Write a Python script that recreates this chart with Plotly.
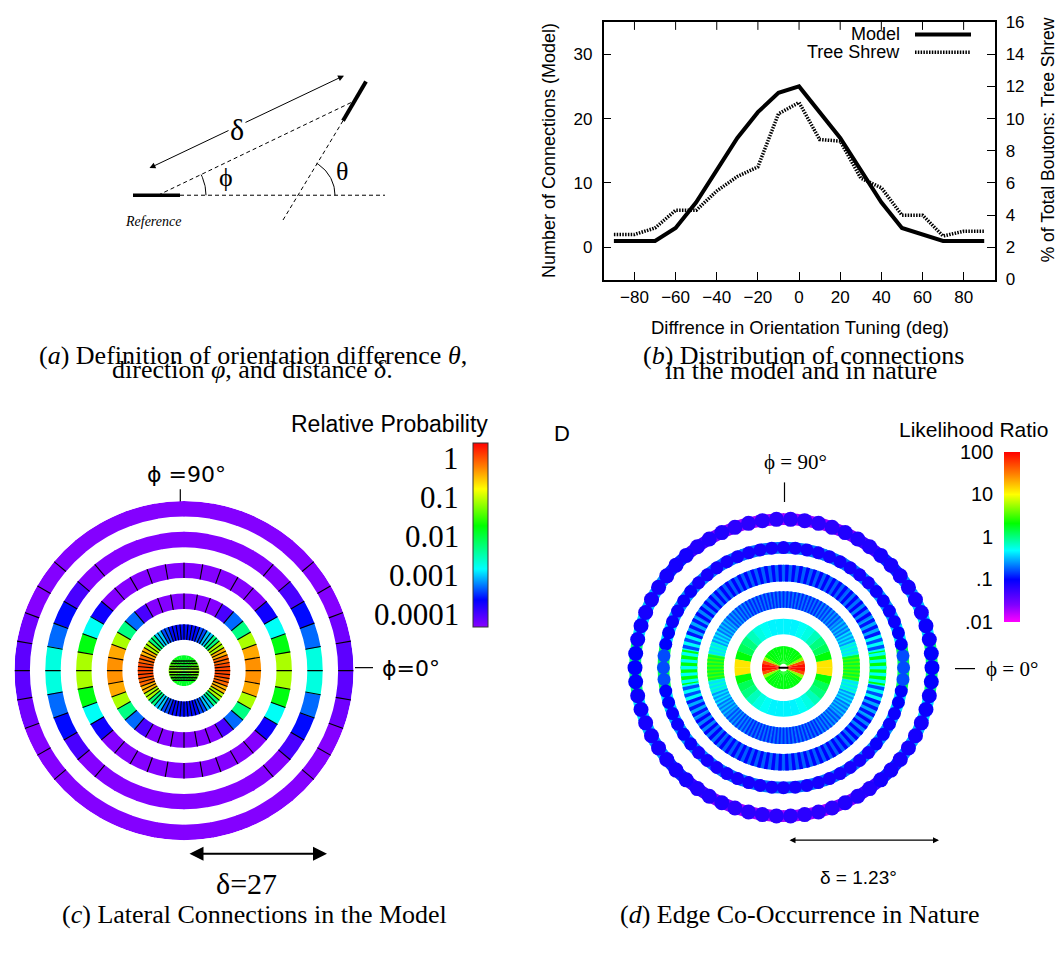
import numpy as np
import plotly.graph_objects as go

W, H = 1060, 956
SANS = "Liberation Sans"
SERIF = "Liberation Serif"

# ---------------- (b) data ----------------
ORIENT_DIFF = [-90, -80, -70, -60, -50, -40, -30, -20, -10, 0, 10, 20, 30, 40, 50, 60, 70, 80, 90]
MODEL_CONNECTIONS = [1, 1, 1, 3, 7, 12, 17, 21, 24, 25, 21, 17, 12, 7, 3, 2, 1, 1, 1]
TREE_SHREW_PCT = [2.8, 2.8, 3.2, 4.3, 4.3, 5.5, 6.4, 7.0, 10.3, 11.0, 8.7, 8.6, 6.3, 5.7, 4.0, 4.0, 2.7, 3.0, 3.0]
X_TICKS = [-80, -60, -40, -20, 0, 20, 40, 60, 80]
Y_LEFT_TICKS = [0, 10, 20, 30]
Y_RIGHT_TICKS = [0, 2, 4, 6, 8, 10, 12, 14, 16]
Y_LEFT_RANGE = [-5, 35]

# ---------------- (c) data: log10 relative probability per 10-degree sector (0..90 deg, mirrored) ----
MODEL_RING_INNER = [0, 2, 4, 6, 8, 10]
MODEL_RING_OUTER = [1, 3, 5, 7, 9, 11]
MODEL_RING_LOGP = [
    [-1.2, -1.3, -1.45, -1.6, -1.7, -1.8, -1.85, -1.9, -1.9],
    [0.05, -0.1, -0.45, -1.1, -2.3, -3.0, -3.4, -3.6, -3.6],
    [-0.3, -0.4, -1.1, -2.3, -3.3, -4.0, -4.3, -4.3, -4.3],
    [-1.1, -1.8, -2.8, -3.7, -4.3, -4.3, -4.3, -4.3, -4.3],
    [-2.7, -3.3, -3.6, -4.0, -4.3, -4.3, -4.3, -4.3, -4.3],
    [-4.1, -4.2, -4.3, -4.3, -4.3, -4.3, -4.3, -4.3, -4.3],
]
MODEL_LINE_STEP = [10, 5, 10, 10, 10, 10]
MODEL_LINE_LIMIT = [-1, 90, 90, 90, 50, 40]
MODEL_DISC_CHORDS = [-40, -28, -16, -6, 6, 16, 28, 40]
PROB_TICK_VALS = [0, -1, -2, -3, -4]
PROB_TICK_TEXT = ["1", "0.1", "0.01", "0.001", "0.0001"]

# ---------------- (d) data: log10 likelihood ratio per 10-degree sector (0..90 deg, mirrored) -------
NATURE_RING_INNER = [4, 34, 61, 88, 114, 143]
NATURE_RING_OUTER = [22, 50, 78, 105, 131, 160]
NATURE_RING_BASE = [
    [1.95, 1.7, 0.7, 0.35, 0.3, 0.28, 0.28, 0.28, 0.28],
    [1.1, 0.3, 0.1, 0.0, -0.15, -0.25, -0.3, -0.35, -0.35],
    [0.5, -0.2, -0.4, -0.5, -0.6, -0.65, -0.7, -0.7, -0.7],
    [0.3, -0.3, -0.55, -0.65, -0.7, -0.75, -0.75, -0.75, -0.75],
    [0.1, -0.4, -0.55, -0.6, -0.65, -0.7, -0.7, -0.7, -0.7],
    [0.0, -0.4, -0.5, -0.6, -0.9, -1.3, -1.6, -1.7, -1.7],
]
NATURE_RING_BEAD = [
    None,
    None,
    [0.2, -0.4, -0.6, -0.7, -0.8, -0.85, -0.9, -0.9, -0.9],
    [-0.3, -0.8, -0.95, -1.0, -1.0, -1.0, -1.0, -1.0, -1.0],
    [-0.8, -1.0, -1.05, -1.05, -1.1, -1.1, -1.1, -1.1, -1.1],
    [-1.0, -1.05, -1.1, -1.1, -1.1, -1.15, -1.15, -1.2, -1.2],
]
NATURE_BEAD_COUNT = [0, 0, 120, 90, 64, 66]
NATURE_BEAD_STYLE = [None, None, "stripe", "stripe", "bead", "bead"]
NATURE_BEAD_SIZE = [0, 0, 0, 0, 13, 15]
LR_TICK_VALS = [2, 1, 0, -1, -2]
LR_TICK_TEXT = ["100", "10", "1", ".1", ".01"]

# ---------------- (a) diagram geometry (page pixels) ----------------
REF_BAR = [[133, 180], [190, 190]]
BASE_LINE = [[180, 385], [190, 190]]
DIR_LINE = [[158, 352], [190, 95]]
TARGET_BAR = [[343, 366], [114, 74]]
TARGET_EXT = [[343, 282], [114, 217]]
DELTA_ARROW = [148, 163, 344, 68]
PHI_ARC = [158, 190, 48, 0, 26]
THETA_ARC = [297, 190, 38, 0, 59]

# colour scales
CS_C = [[0, "#8800ff"], [0.147, "#0000ff"], [0.315, "#00ffff"], [0.55, "#00ff00"],
        [0.75, "#ffff00"], [0.87, "#ff8000"], [1, "#ff0000"]]
C_MIN, C_MAX = -4.32, 0.39
CS_D = [[0, "#ff00ff"], [0.1, "#8000ff"], [0.25, "#0000ff"], [0.42, "#00ffff"],
        [0.58, "#00ff00"], [0.75, "#ffff00"], [0.87, "#ff8000"], [1, "#ff0000"]]
D_MIN, D_MAX = -2.0, 2.0


def fold(angle):
    f = angle % 180.0
    return min(f, 180.0 - f)


def sector_value(qvals, angle, step=10):
    return qvals[min(int(fold(angle) // step), len(qvals) - 1)]


fig = go.Figure()

# ======== (a) diagram on a full-page pixel axis ========
def seg(xy, width, dash=None):
    fig.add_trace(go.Scatter(x=xy[0], y=xy[1], mode="lines", xaxis="x", yaxis="y",
                             line=dict(color="black", width=width, dash=dash),
                             hoverinfo="skip", showlegend=False))

seg(REF_BAR, 3.5)
seg(BASE_LINE, 1, "4px,3px")
seg(DIR_LINE, 1, "4px,3px")
seg(TARGET_BAR, 4)
seg(TARGET_EXT, 1, "4px,3px")
for cx, cy, r, a0, a1 in [PHI_ARC, THETA_ARC]:
    t = np.radians(np.linspace(a0, a1, 30))
    fig.add_trace(go.Scatter(x=cx + r * np.cos(t), y=cy - r * np.sin(t), mode="lines",
                             xaxis="x", yaxis="y", line=dict(color="black", width=1),
                             hoverinfo="skip", showlegend=False))

ann = []
def text(x, y, s, size, family=SANS, xanchor="center", yanchor="middle", angle=0, bg=None):
    d = dict(x=x, y=y, xref="x", yref="y", text=s, showarrow=False, xanchor=xanchor,
             yanchor=yanchor, textangle=angle, font=dict(family=family, size=size, color="black"))
    if bg:
        d["bgcolor"] = bg
    ann.append(d)

def arrow(x0, y0, x1, y1, width, head, size):
    ann.append(dict(x=x1, y=y1, ax=x0, ay=y0, xref="x", yref="y", axref="x", ayref="y",
                    text="", showarrow=True, arrowhead=head, startarrowhead=head,
                    arrowside="end+start", arrowsize=size, startarrowsize=size,
                    arrowwidth=width, arrowcolor="black", standoff=0, startstandoff=0))

arrow(DELTA_ARROW[0], DELTA_ARROW[1], DELTA_ARROW[2], DELTA_ARROW[3], 1, 2, 1.2)
text(237, 123, "δ", 30, SERIF, bg="white")
text(226, 172, "ϕ", 26, SERIF)
text(342, 166, "θ", 26, SERIF)
text(153, 217, "<i>Reference</i>", 14, SERIF)

# captions
text(253, 354, "(<i>a</i>) Definition of orientation difference <i>θ</i>,", 26, SERIF)
text(252, 368, "direction <i>φ</i>, and distance <i>δ</i>.", 26, SERIF)
text(803, 354, "(<i>b</i>) Distribution of connections", 26, SERIF)
text(801, 369, "in the model and in nature", 26, SERIF)
text(254, 924, "(<i>c</i>) Lateral Connections in the Model", 26, SERIF)
text(800, 924, "(<i>d</i>) Edge Co-Occurrence in Nature", 26, SERIF)

# ======== (b) line chart ========
fig.add_trace(go.Scatter(x=ORIENT_DIFF, y=MODEL_CONNECTIONS, mode="lines", name="Model",
                         xaxis="x2", yaxis="y2", line=dict(color="black", width=4)))
fig.add_trace(go.Scatter(x=ORIENT_DIFF, y=TREE_SHREW_PCT, mode="lines", name="Tree Shrew",
                         xaxis="x2", yaxis="y3", line=dict(color="black", width=3.5, dash="1.5px,1.3px")))

B_X0, B_X1, B_Y0, B_Y1 = 603.6, 994.5, 13.3, 276
TICK_PX = 8
# inward ticks on the top border (gnuplot style mirror)
tick_len_units = TICK_PX * (Y_LEFT_RANGE[1] - Y_LEFT_RANGE[0]) / (B_Y1 - B_Y0)
tx, ty = [], []
for xv in X_TICKS:
    tx += [xv, xv, None]
    ty += [Y_LEFT_RANGE[1], Y_LEFT_RANGE[1] - tick_len_units, None]
fig.add_trace(go.Scatter(x=tx, y=ty, mode="lines", xaxis="x2", yaxis="y2",
                         line=dict(color="black", width=1), hoverinfo="skip", showlegend=False))

# legend (drawn manually, gnuplot style)
seg([[915, 971], [26, 26]], 4)
seg([[915, 971], [44, 44]], 3.5, "1.5px,1.3px")
text(902, 26, "Model", 18, SANS, xanchor="right")
text(902, 44, "Tree Shrew", 18, SANS, xanchor="right")
text(800, 325, "Diffrence in Orientation Tuning (deg)", 18.5, SANS)
text(549, 145, "Number of Connections (Model)", 18, SANS, angle=-90)
text(1048, 134, "% of Total Boutons: Tree Shrew", 17.5, SANS, angle=-90)

tickfont = dict(family=SANS, size=17, color="black")
axis_common = dict(showgrid=False, zeroline=False, showline=True, linecolor="black", linewidth=1.5,
                   ticks="inside", ticklen=TICK_PX, tickwidth=1, tickcolor="black", tickfont=tickfont)

# ======== (c) model rings ========
for k in range(6):
    inner, outer = MODEL_RING_INNER[k], MODEL_RING_OUTER[k]
    centers = np.arange(5, 360, 10)
    vals = [sector_value(MODEL_RING_LOGP[k], a) for a in centers]
    fig.add_trace(go.Barpolar(r=[outer - inner] * len(centers), base=[inner] * len(centers),
                              theta=centers, width=[10.4] * len(centers), subplot="polar",
                              marker=dict(color=vals, coloraxis="coloraxis", line=dict(width=0)),
                              hoverinfo="skip", showlegend=False))
for k in range(6):
    inner, outer = MODEL_RING_INNER[k], MODEL_RING_OUTER[k]
    rr, tt = [], []
    for a in np.arange(0, 360, MODEL_LINE_STEP[k]):
        if fold(a) <= MODEL_LINE_LIMIT[k]:
            rr += [inner, outer, None]
            tt += [a, a, None]
    if rr:
        fig.add_trace(go.Scatterpolar(r=rr, theta=tt, mode="lines", subplot="polar",
                                      line=dict(color="black", width=1.1), hoverinfo="skip",
                                      showlegend=False))
# horizontal stripes across the central disc
rr, tt = [], []
for a in MODEL_DISC_CHORDS:
    rr += [MODEL_RING_OUTER[0] * 0.97, MODEL_RING_OUTER[0] * 0.97, None]
    tt += [a, 180 - a, None]
fig.add_trace(go.Scatterpolar(r=rr, theta=tt, mode="lines", subplot="polar",
                              line=dict(color="black", width=1.6), hoverinfo="skip", showlegend=False))

# ======== (d) nature rings ========
for k in range(6):
    inner, outer = NATURE_RING_INNER[k], NATURE_RING_OUTER[k]
    centers = np.arange(5, 360, 10)
    vals = [sector_value(NATURE_RING_BASE[k], a) for a in centers]
    b_in, b_out = (inner + 2.5, outer - 2.5) if NATURE_BEAD_STYLE[k] == "bead" else (inner, outer)
    fig.add_trace(go.Barpolar(r=[b_out - b_in] * len(centers), base=[b_in] * len(centers),
                              theta=centers, width=[10.4] * len(centers), subplot="polar2",
                              marker=dict(color=vals, coloraxis="coloraxis2", line=dict(width=0)),
                              hoverinfo="skip", showlegend=False))
    n = NATURE_BEAD_COUNT[k]
    if n:
        th = np.arange(n) * 360.0 / n
        bv = [sector_value(NATURE_RING_BEAD[k], a) for a in th]
        if NATURE_BEAD_STYLE[k] == "stripe":
            fig.add_trace(go.Barpolar(r=[outer - inner] * n, base=[inner] * n, theta=th,
                                      width=[0.5 * 360.0 / n] * n, subplot="polar2",
                                      marker=dict(color=bv, coloraxis="coloraxis2", line=dict(width=0)),
                                      hoverinfo="skip", showlegend=False))
        else:
            fig.add_trace(go.Scatterpolar(r=[(inner + outer) / 2] * n, theta=th, mode="markers",
                                          subplot="polar2",
                                          marker=dict(size=NATURE_BEAD_SIZE[k], color=bv,
                                                      coloraxis="coloraxis2", line=dict(width=0)),
                                          hoverinfo="skip", showlegend=False))
fig.add_trace(go.Scatterpolar(r=[5, 5], theta=[0, 180], mode="lines", subplot="polar2",
                              line=dict(color="black", width=2), hoverinfo="skip", showlegend=False))

# (c) decorations
C_CX, C_CY, C_R = 184, 675, 173
seg([[180.3, 180.3], [490, 506]], 1.2)
seg([[355, 373], [672, 672]], 1.2)
text(186, 475, "ϕ =90°", 22, "DejaVu Sans")
text(380, 673, "ϕ=0°", 22, "DejaVu Sans", xanchor="left")
text(389, 423, "Relative Probability", 23, SANS)
CB_C_TOP, CB_C_BOT = 442.7, 630.7
for v, s in zip(PROB_TICK_VALS, PROB_TICK_TEXT):
    y = CB_C_TOP + (C_MAX - v) / (C_MAX - C_MIN) * (CB_C_BOT - CB_C_TOP)
    text(461, y, s, 31, SERIF, xanchor="right")
arrow(188, 862, 327, 862, 2, 2, 1.4)
text(246, 892, "δ=27", 30, SERIF)

# (d) decorations
D_CX, D_CY, D_R = 783.5, 672, 160
text(562, 433, "D", 22, SANS)
text(973, 429, "Likelihood Ratio", 21, SANS)
CB_D_TOP, CB_D_BOT = 451.7, 625
for v, s in zip(LR_TICK_VALS, LR_TICK_TEXT):
    y = CB_D_TOP + (D_MAX - v) / (D_MAX - D_MIN) * (CB_D_BOT - CB_D_TOP)
    text(995, y, s, 20, SANS, xanchor="right")
text(795, 462, "ϕ = 90°", 21, SERIF)
seg([[784.5, 784.5], [483, 503]], 1.2)
seg([[955, 975], [673, 673]], 1.2)
text(984, 673, "ϕ = 0°", 21, SERIF, xanchor="left")
arrow(788, 848, 939, 848, 1.2, 2, 1.0)
text(858, 886, "δ = 1.23°", 19, SANS)


def polar_domain(cx, cy, r):
    return dict(x=[(cx - r) / W, (cx + r) / W], y=[(H - cy - r) / H, (H - cy + r) / H])


hidden_radial = dict(visible=False, showgrid=False, showline=False, showticklabels=False, ticks="")
hidden_ang = dict(visible=False, showgrid=False, showline=False, showticklabels=False, ticks="")

fig.update_layout(
    width=W, height=H, autosize=False,
    margin=dict(l=0, r=0, t=0, b=0),
    paper_bgcolor="white", plot_bgcolor="rgba(0,0,0,0)",
    showlegend=False,
    xaxis=dict(domain=[0, 1], range=[0, W], visible=False, fixedrange=True),
    yaxis=dict(domain=[0, 1], range=[H, 0], visible=False, fixedrange=True),
    xaxis2=dict(domain=[B_X0 / W, B_X1 / W], range=[-95, 95], anchor="y2", tickvals=X_TICKS,
                mirror=True, ticklabelstandoff=1, **axis_common),
    yaxis2=dict(domain=[(H - B_Y1) / H, (H - B_Y0) / H], range=Y_LEFT_RANGE, anchor="x2",
                tickvals=Y_LEFT_TICKS, mirror=True, ticklabelstandoff=6, **axis_common),
    yaxis3=dict(overlaying="y2", side="right", anchor="x2", range=[0, 16],
                tickvals=Y_RIGHT_TICKS, ticklabelstandoff=6, **axis_common),
    polar=dict(domain=polar_domain(C_CX, C_CY, C_R), bgcolor="rgba(0,0,0,0)",
               radialaxis=dict(range=[0, 11], **hidden_radial), angularaxis=hidden_ang),
    polar2=dict(domain=polar_domain(D_CX, D_CY, D_R), bgcolor="rgba(0,0,0,0)",
                radialaxis=dict(range=[0, 160], **hidden_radial), angularaxis=hidden_ang),
    coloraxis=dict(colorscale=CS_C, cmin=C_MIN, cmax=C_MAX,
                   colorbar=dict(x=472.7 / W, xanchor="left", xpad=0, ypad=0,
                                 y=(H - (CB_C_TOP + CB_C_BOT) / 2) / H, yanchor="middle",
                                 len=(CB_C_BOT - CB_C_TOP) / H, lenmode="fraction",
                                 thickness=14.6, thicknessmode="pixels", outlinewidth=1,
                                 outlinecolor="#333", showticklabels=False, ticks="")),
    coloraxis2=dict(colorscale=CS_D, cmin=D_MIN, cmax=D_MAX,
                    colorbar=dict(x=1003.6 / W, xanchor="left", xpad=0, ypad=0,
                                  y=(H - (CB_D_TOP + CB_D_BOT) / 2) / H, yanchor="middle",
                                  len=(CB_D_BOT - CB_D_TOP) / H, lenmode="fraction",
                                  thickness=16, thicknessmode="pixels", outlinewidth=0,
                                  showticklabels=False, ticks="")),
    annotations=ann,
)

fig.write_html("out.html")
